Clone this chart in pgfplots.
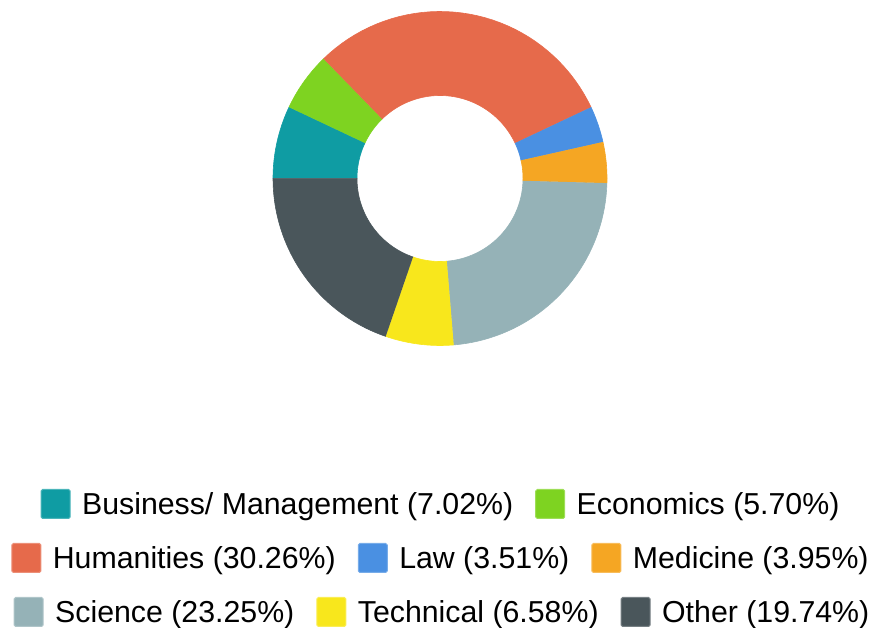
\documentclass[border=0pt]{standalone}
\usepackage{fontspec}
\setmainfont{Liberation Sans}
\usepackage{pgfplots}
\pgfplotsset{compat=1.18}

\definecolor{cBus}{HTML}{0F9CA3}
\definecolor{cEco}{HTML}{7ED321}
\definecolor{cHum}{HTML}{E66A4B}
\definecolor{cLaw}{HTML}{4A90E2}
\definecolor{cMed}{HTML}{F5A623}
\definecolor{cSci}{HTML}{95B2B7}
\definecolor{cTec}{HTML}{F8E71C}
\definecolor{cOth}{HTML}{4A565B}

% 1pt = 1px of the reference
\pgfplotsset{
  canvas/.style={width=873pt, height=628pt, scale only axis,
    xmin=0, xmax=873, ymin=0, ymax=628, hide axis, clip=false},
  rowlegend/.style={legend style={draw=none, fill=none,
      at={(axis cs:#1)}, anchor=center, legend columns=-1,
      font=\fontsize{30.3}{36}\selectfont,
      nodes={inner sep=0pt},
      /tikz/every odd column/.append style={column sep=11.5pt},
      /tikz/every even column/.append style={column sep=22pt}},
    legend image code/.code={
      \draw[##1, line width=1pt, rounded corners=1.5pt] (0.5pt,-14.5pt) rectangle (29.5pt,14.5pt);}},
}

\begin{document}
\begin{tikzpicture}
\begin{axis}[canvas, rowlegend={440,124}]
  \def\cum{0}
  % percentages, clockwise from 9 o'clock
  \foreach \p/\c in {7.02/cBus, 5.70/cEco, 30.26/cHum, 3.51/cLaw,
                     3.95/cMed, 23.25/cSci, 6.58/cTec, 19.74/cOth}{
    \pgfmathsetmacro\a{180-3.6*\cum}
    \pgfmathsetmacro\b{180-3.6*(\cum+\p)}
    \edef\temp{\noexpand\addplot[fill=\c, draw=\c, line width=0.6pt, forget plot,
        samples at={0,...,81}, variable=\noexpand\t]
      ({440+((\noexpand\t<=40)?167:83)*cos((\noexpand\t<=40)?(\a+(\b-\a)*\noexpand\t/40):(\b-(\b-\a)*(\noexpand\t-41)/40))},
       {449.5+((\noexpand\t<=40)?167:83)*sin((\noexpand\t<=40)?(\a+(\b-\a)*\noexpand\t/40):(\b-(\b-\a)*(\noexpand\t-41)/40))});}
    \temp
    \pgfmathsetmacro\newcum{\cum+\p}
    \global\let\cum\newcum
  }
  \addlegendimage{fill=cBus, draw=cBus!75!white}
  \addlegendentry{Business/ Management (7.02\%)}
  \addlegendimage{fill=cEco, draw=cEco!75!white}
  \addlegendentry{Economics (5.70\%)}
\end{axis}
\begin{axis}[canvas, rowlegend={440,70}]
  \addlegendimage{fill=cHum, draw=cHum!75!white}
  \addlegendentry{Humanities (30.26\%)}
  \addlegendimage{fill=cLaw, draw=cLaw!75!white}
  \addlegendentry{Law (3.51\%)}
  \addlegendimage{fill=cMed, draw=cMed!75!white}
  \addlegendentry{Medicine (3.95\%)}
\end{axis}
\begin{axis}[canvas, rowlegend={441.5,16}]
  \addlegendimage{fill=cSci, draw=cSci!75!white}
  \addlegendentry{Science (23.25\%)}
  \addlegendimage{fill=cTec, draw=cTec!75!white}
  \addlegendentry{Technical (6.58\%)}
  \addlegendimage{fill=cOth, draw=cOth!75!white}
  \addlegendentry{Other (19.74\%)}
\end{axis}
\pgfresetboundingbox
\path (current axis.south west) rectangle (current axis.north east);
\end{tikzpicture}
\end{document}
